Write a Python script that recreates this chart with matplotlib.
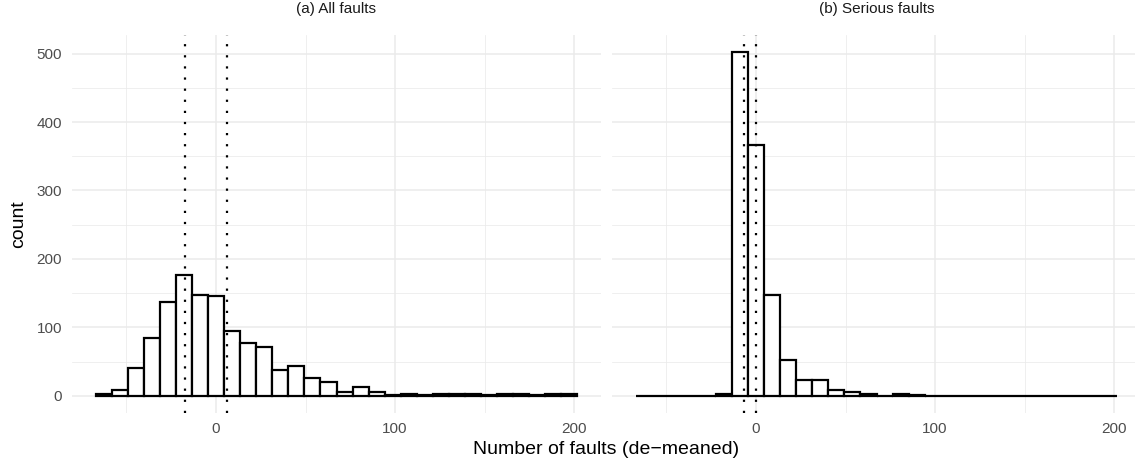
import numpy as np
import matplotlib
matplotlib.use("Agg")
import matplotlib.pyplot as plt

plt.rcParams['font.family'] = ['Liberation Sans', 'DejaVu Sans']

# Histogram bins (30 bins shared by both panels)
bin_lo = -67.0
bin_hi = 201.6
n_bins = 30

# Counts per bin
all_counts = [2, 8, 41, 84, 137, 176, 147, 146, 94, 77,
              71, 37, 43, 26, 20, 6, 13, 6, 1, 3,
              1, 3, 2, 2, 1, 2, 3, 1, 2, 2]
serious_counts = [0, 0, 0, 0, 0, 2, 502, 366, 147, 53,
                  23, 23, 9, 6, 2, 0, 3, 1, 0, 0,
                  0, 0, 0, 0, 0, 0, 0, 0, 0, 0]

# Dotted reference lines per panel
all_vlines = [-17.3, 5.9]
serious_vlines = [-6.5, 0.2]

panel_titles = ["(a) All faults", "(b) Serious faults"]
x_ticks = [0, 100, 200]
x_minor = [-50, 50, 150]
y_ticks = [0, 100, 200, 300, 400, 500]
y_minor = [50, 150, 250, 350, 450]

edges = np.linspace(bin_lo, bin_hi, n_bins + 1)
xpad = 0.05 * (bin_hi - bin_lo)
ymax = max(max(all_counts), max(serious_counts))

W, H = 1135, 463
fig = plt.figure(figsize=(W / 100, H / 100), dpi=100)

grid_col = "#EBEBEB"
text_col = "#4D4D4D"

panels = [(72, all_counts, all_vlines), (612, serious_counts, serious_vlines)]
for i, (left_px, counts, vlines) in enumerate(panels):
    ax = fig.add_axes([left_px / W, 1 - 413 / H, 529 / W, 378 / H])
    ax.set_xlim(bin_lo - xpad, bin_hi + xpad)
    ax.set_ylim(-0.05 * ymax, 1.05 * ymax)

    # grid like theme_minimal
    for v in x_ticks:
        ax.axvline(v, color=grid_col, lw=1.1, zorder=0)
    for v in x_minor:
        ax.axvline(v, color=grid_col, lw=0.55, zorder=0)
    for v in y_ticks:
        ax.axhline(v, color=grid_col, lw=1.1, zorder=0)
    for v in y_minor:
        ax.axhline(v, color=grid_col, lw=0.55, zorder=0)

    ax.bar(edges[:-1], counts, width=np.diff(edges), align='edge',
           facecolor='white', edgecolor='black', linewidth=1.6, zorder=2)

    for v in vlines:
        ax.axvline(v, color='black', lw=1.6, linestyle=(0, (1, 4)), zorder=3)

    for s in ax.spines.values():
        s.set_visible(False)
    ax.set_xticks(x_ticks)
    ax.set_yticks(y_ticks)
    ax.tick_params(length=0, labelsize=11, colors=text_col)
    ax.tick_params(axis='x', pad=6.3)
    ax.tick_params(axis='y', pad=7.2)
    if i == 1:
        ax.set_yticklabels([])
    # strip label
    fig.text((left_px + 264.5) / W, 1 - 9 / H, panel_titles[i],
             ha='center', va='center', fontsize=11, color='#1A1A1A')

fig.text(606.5 / W, 1 - 449 / H, "Number of faults (de\u2212meaned)",
         ha='center', va='center', fontsize=14)
fig.text(19 / W, 1 - 224 / H, "count", rotation=90,
         ha='center', va='center', fontsize=14)

fig.savefig("out.png", dpi=100)
